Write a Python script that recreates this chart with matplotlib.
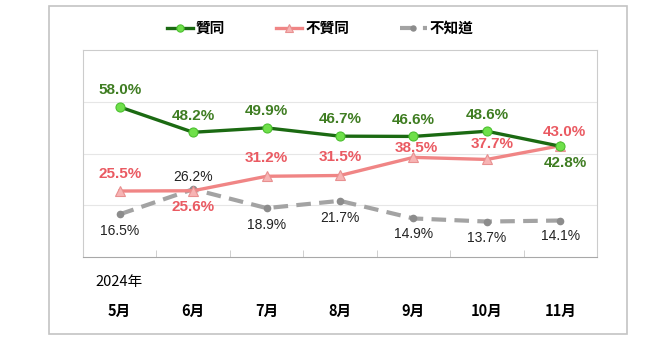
import matplotlib.pyplot as plt
from matplotlib.patches import Rectangle

plt.rcParams['font.family'] = ['Liberation Sans', 'Noto Sans CJK TC', 'DejaVu Sans']

meses = ['5月', '6月', '7月', '8月', '9月', '10月', '11月']
anio = '2024年'
series = ['贊同', '不贊同', '不知道']
zantong = [58.0, 48.2, 49.9, 46.7, 46.6, 48.6, 42.8]
bu_zantong = [25.5, 25.6, 31.2, 31.5, 38.5, 37.7, 43.0]
bu_zhidao = [16.5, 26.2, 18.9, 21.7, 14.9, 13.7, 14.1]

# desplazamiento de cada etiqueta (en puntos) respecto al punto
off_verde = [(0, 12), (0, 12), (0, 12), (0, 12), (0, 12), (0, 12), (4, -12)]
off_rosa = [(0, 12), (0, -12), (0, 13), (0, 13), (2, 7), (4, 11), (3, 10)]
off_gris = [(0, -12), (0, 9), (0, -12), (0, -12), (0, -11), (0, -12), (0, -11)]

x = list(range(len(meses)))

fig = plt.figure(figsize=(6.66, 3.54), dpi=100)
ax = fig.add_axes([83 / 666, 1 - 257 / 354, (597 - 83) / 666, (257 - 50) / 354])

# marco exterior
fig.patches.append(Rectangle((49 / 666, 1 - 334 / 354), (627 - 49) / 666, (334 - 6) / 354,
                             transform=fig.transFigure, fill=False, edgecolor='#c4c4c4', lw=1.2))

ax.plot(x, zantong, color='#1b6a12', lw=2.4, marker='o', ms=6.5,
        mfc='#6fe04a', mec='#4cc030', mew=0.8, label=series[0], zorder=4)
ax.plot(x, bu_zantong, color='#f08585', lw=2.4, marker='^', ms=7,
        mfc='#f7b4b4', mec='#e89090', mew=0.8, label=series[1], zorder=3)
ax.plot(x, bu_zhidao, color='#a3a3a3', lw=3, ls=(0, (3.5, 2)), marker='o', ms=4.5,
        mfc='#8c8c8c', mec='#8c8c8c', label=series[2], zorder=2)

for xi, v, o in zip(x, zantong, off_verde):
    ax.annotate(f'{v:.1f}%', (xi, v), xytext=o, textcoords='offset points', ha='center', va='center',
                color='#3f7d22', fontsize=11, fontweight='bold')
for xi, v, o in zip(x, bu_zantong, off_rosa):
    ax.annotate(f'{v:.1f}%', (xi, v), xytext=o, textcoords='offset points', ha='center', va='center',
                color='#ea5a62', fontsize=11, fontweight='bold')
for xi, v, o in zip(x, bu_zhidao, off_gris):
    ax.annotate(f'{v:.1f}%', (xi, v), xytext=o, textcoords='offset points', ha='center', va='center',
                color='#222222', fontsize=10)

ax.set_xlim(-0.5, len(meses) - 0.5)
ax.set_ylim(0, 80)
ax.set_yticks([20, 40, 60])
ax.yaxis.grid(True, color='#e6e6e6', lw=0.8)
ax.set_axisbelow(True)
ax.tick_params(axis='y', left=False, labelleft=False)

ax.set_xticks(x)
ax.set_xticklabels(meses, fontsize=10.5, fontweight='bold', family=['Noto Sans CJK TC', 'DejaVu Sans'])
ax.tick_params(axis='x', which='major', length=0, pad=33)
ax.set_xticks([i + 0.5 for i in x[:-1]], minor=True)
ax.tick_params(axis='x', which='minor', direction='in', length=5, color='#c8c8c8')

for s in ['top', 'left', 'right']:
    ax.spines[s].set_color('#cccccc')
ax.spines['bottom'].set_color('#a8a8a8')

fig.text(119 / 666, 1 - 282 / 354, anio, ha='center', va='center', fontsize=10.5, fontweight='medium',
         family=['Noto Sans CJK TC', 'DejaVu Sans'])

leg = fig.legend(loc='center', bbox_to_anchor=(320 / 666, 1 - 28 / 354), ncol=3, frameon=False,
                 handlelength=1.8, handletextpad=0.2, columnspacing=3.5, markerscale=0.8,
                 prop={'family': ['Noto Sans CJK TC', 'DejaVu Sans'], 'weight': 'bold', 'size': 10.5})

fig.savefig('out.png', dpi=100)
